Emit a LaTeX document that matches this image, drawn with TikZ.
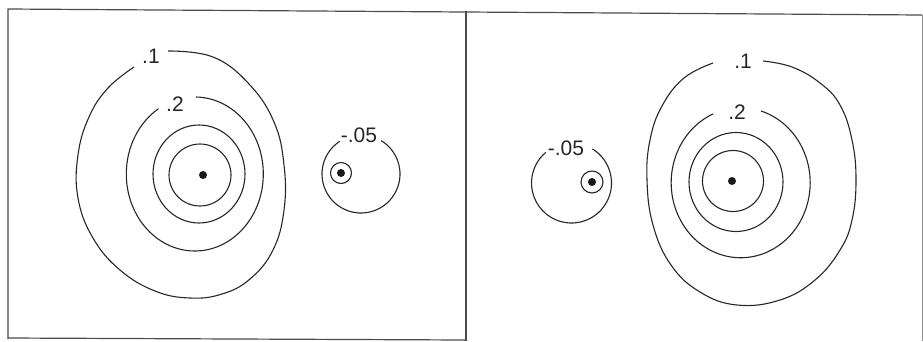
\documentclass[tikz,border=0pt]{standalone}
\usepackage{fontspec}
\setmainfont{Liberation Sans}
\begin{document}
\begin{tikzpicture}[x=1pt,y=-1pt,
  contour/.style={draw=black!85,line width=1.1pt},
  framel/.style={draw=black!70,line width=1.2pt},
  lab/.style={inner sep=0pt,font=\fontsize{21}{21}\selectfont,text=black!85},
  dotc/.style={fill=black!90,draw=none}]
\useasboundingbox (0,0) rectangle (923,341);
% frame
\draw[framel] (8,339) -- (8,9) -- (922,15);
\draw[framel,draw=black!45,line width=0.8pt] (922,15) -- (922,341);
\draw[framel] (8,338) -- (466,340);
\draw[framel] (466,11) -- (466,341);
% ---------- left panel ----------
\draw[contour] plot[smooth,tension=0.7] coordinates{
 (168,51) (213,57) (249,84) (274,122) (284,165) (284,210) (273,250) (250,279) (222,294) (190,298)
 (155,291) (120,270) (93,238) (78,198) (78,155) (89,117) (108,88) (134,67)};
\draw[contour] ([shift={(196,97)}]0,0) arc[start angle=-89,end angle=238,x radius=68.5,y radius=77];
\draw[contour] (199,174) ellipse[x radius=46,y radius=49];
\draw[contour] (200,175) circle[radius=31];
\fill[dotc] (203,175) circle[radius=4];
\node[lab] (l1) at (151,56) {.1};
\node[lab] (l2) at (175,104) {.2};
% small negative well
\draw[contour] ([shift={(-59:39)}]361,174) arc[start angle=-59,end angle=237,radius=39];
\draw[contour] (341,173) circle[radius=10.5];
\fill[dotc] (341,173) circle[radius=4];
\node[lab] (l3) at (359,135) {-.05};
% ---------- right panel ----------
\draw[contour] plot[smooth,tension=0.7] coordinates{
 (763,61) (792,67) (820,83) (840,105) (852,140) (856,180) (852,220) (840,250) (815,280)
 (780,300) (737,305) (700,292) (671,265) (653,225) (647,180) (650,140) (662,106) (684,78) (713,63)};
\draw[contour] ([shift={(761,111)}]0,0) arc[start angle=-73,end angle=246.6,x radius=69.5,y radius=75];
\draw[contour] (736,182) ellipse[x radius=47,y radius=49.5];
\draw[contour] (733,181) circle[radius=30.5];
\fill[dotc] (732,181) circle[radius=4];
\node[lab] (r1) at (743,61) {.1};
\node[lab] (r2) at (737,112) {.2};
\draw[contour] ([shift={(-58.5:40)}]571.5,183) arc[start angle=-58.5,end angle=230,radius=40];
\draw[contour] (592,182) circle[radius=11];
\fill[dotc] (592,182) circle[radius=4];
\node[lab] (r3) at (566,148) {-.05};
\end{tikzpicture}
\end{document}
